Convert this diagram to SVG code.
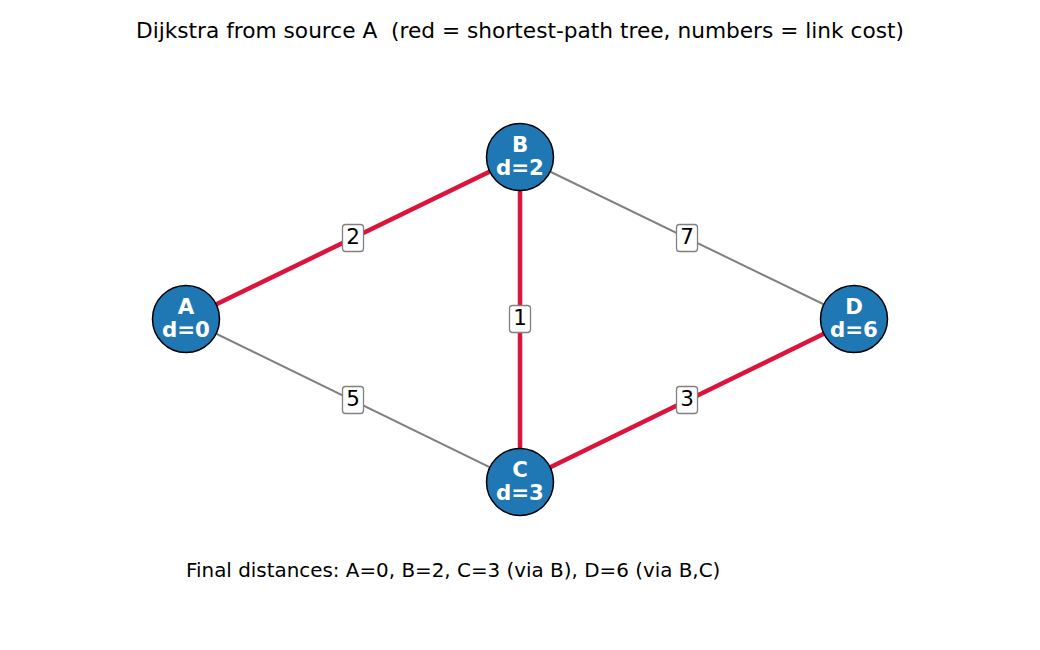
<svg xmlns="http://www.w3.org/2000/svg" width="1040" height="650" viewBox="0 0 1040 650">
<style>
text{font-family:"DejaVu Sans",sans-serif}
.e{stroke:#808080;stroke-width:2;fill:none}
.t{stroke:#dc143c;stroke-width:4.5;fill:none}
.n circle{fill:#1f77b4;stroke:#000;stroke-width:1.5}
.n text{fill:#fff;font-weight:bold;font-size:21.3px;text-anchor:middle}
.lb rect{fill:#fff;stroke:#808080;stroke-width:1.3}
.lb text{font-size:21.5px;text-anchor:middle;fill:#000}
</style>
<rect width="1040" height="650" fill="#fff"/>
<text x="520" y="38" font-size="21.7" text-anchor="middle" xml:space="preserve" style="white-space:pre">Dijkstra from source A  (red = shortest-path tree, numbers = link cost)</text>
<g id="connectors">
<line class="t" x1="186" y1="319" x2="520" y2="157"/>
<line class="e" x1="186" y1="319" x2="520" y2="482"/>
<line class="t" x1="520" y1="157" x2="520" y2="482"/>
<line class="e" x1="520" y1="157" x2="854" y2="319"/>
<line class="t" x1="520" y1="482" x2="854" y2="319"/>
<g class="lb"><rect x="342.5" y="224.5" width="21" height="27" rx="3"/><text x="353" y="243.5">2</text></g>
<g class="lb"><rect x="342.5" y="386.5" width="21" height="27" rx="3"/><text x="353" y="405.5">5</text></g>
<g class="lb"><rect x="509.5" y="305.5" width="21" height="27" rx="3"/><text x="520" y="324.5">1</text></g>
<g class="lb"><rect x="676.5" y="224.5" width="21" height="27" rx="3"/><text x="687" y="243.5">7</text></g>
<g class="lb"><rect x="676.5" y="386.5" width="21" height="27" rx="3"/><text x="687" y="405.5">3</text></g>
</g>
<g id="node-A" class="n"><circle cx="186" cy="319" r="33.5"/><text x="186" y="313.5">A</text><text x="186" y="336.5">d=0</text></g>
<g id="node-B" class="n"><circle cx="520" cy="157" r="33.5"/><text x="520" y="151.5">B</text><text x="520" y="174.5">d=2</text></g>
<g id="node-C" class="n"><circle cx="520" cy="482" r="33.5"/><text x="520" y="476.5">C</text><text x="520" y="499.5">d=3</text></g>
<g id="node-D" class="n"><circle cx="854" cy="319" r="33.5"/><text x="854" y="313.5">D</text><text x="854" y="336.5">d=6</text></g>
<text x="186" y="577" font-size="19.9">Final distances: A=0, B=2, C=3 (via B), D=6 (via B,C)</text>
</svg>
